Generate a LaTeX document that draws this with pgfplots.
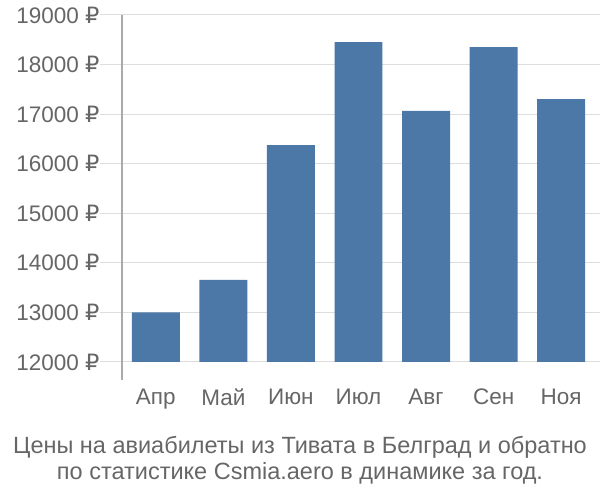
\documentclass[border=0pt]{standalone}
\usepackage{fontspec}
\setmainfont{Liberation Sans}
\newfontfamily\rub{DejaVu Sans}
\usepackage{pgfplots}
\pgfplotsset{compat=1.18}
\definecolor{barblue}{HTML}{4C78A8}
\definecolor{txt}{HTML}{666666}
\definecolor{gridc}{HTML}{DDDDDD}
\definecolor{axc}{HTML}{AAAAAA}
\begin{document}
\begin{tikzpicture}[x=1pt,y=1pt]
\useasboundingbox (-122,-138) rectangle (478,362);
\begin{axis}[
  at={(0,0)}, anchor=south west,
  scale only axis, width=473pt, height=347pt,
  xmin=-0.5, xmax=6.5, ymin=12000, ymax=19000,
  axis line style={draw=none},
  tick align=outside,
  scaled y ticks=false,
  ytick={12000,13000,...,19000},
  major tick length=22pt,
  minor tick length=18pt,
  xtick=\empty,
  minor xtick={-0.5,0.5,...,6.5},
  extra x ticks={0,1,2,3,4,5,6},
  extra x tick labels={Апр,Май,Июн,Июл,Авг,Сен,Ноя},
  extra x tick style={major tick length=0pt, grid=none, tick label style={yshift=-23pt}},
  ymajorgrids, xminorgrids,
  major grid style={gridc, line width=1pt},
  minor grid style={gridc, line width=1pt},
  tick style={gridc, line width=1pt},
  /pgf/number format/assume math mode=true,
  /pgf/number format/1000 sep={},
  yticklabel={\pgfmathprintnumber{\tick} {\rub ₽}},
  yticklabel style={xshift=3pt},
  ticklabel style={font=\fontsize{22.5}{22.5}\selectfont, text=txt},
  ybar, bar width=0.71, bar shift=0pt,
  extra description/.code={\draw[axc, line width=1.2pt] (axis description cs:0,1) -- ++(0,-365pt);},
]
\addplot[fill=barblue, draw=none] coordinates {(0,13000) (1,13655) (2,16375) (3,18455) (4,17065) (5,18350) (6,17305)};
\end{axis}
\node[align=center, text=txt, font=\fontsize{23.5}{26.5}\selectfont] at (178,-98) {Цены на авиабилеты из Тивата в Белград и обратно\\по статистике Csmia.aero в динамике за год.};
\end{tikzpicture}
\end{document}
